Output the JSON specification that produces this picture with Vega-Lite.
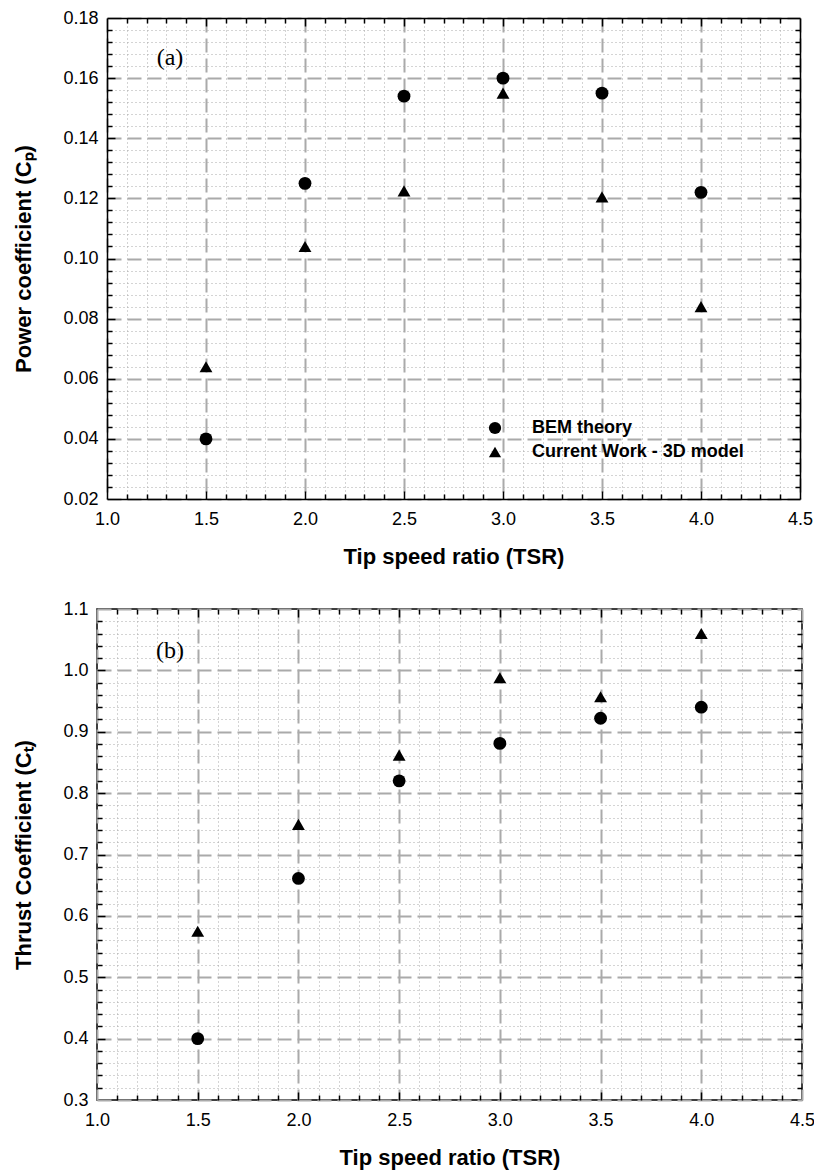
{
  "$schema": "https://vega.github.io/schema/vega-lite/v6.json",
  "padding": {"left": 12, "top": 9, "right": 0, "bottom": 3},
  "spacing": 32,
  "config": {
    "view": {"stroke": "black", "strokeWidth": 1.5},
    "font": "Liberation Sans",
    "axis": {
      "labelFont": "Liberation Sans", "labelFontSize": 18, "labelColor": "black",
      "titleFont": "Liberation Sans", "titleFontSize": 22, "titleFontWeight": "bold", "titleColor": "black",
      "domain": false, "tickColor": "black", "tickWidth": 1.5, "labelOverlap": false, "labelFlush": false, "labelBound": false
    }
  },
  "datasets": {
    "cp": [
      {"tsr": 1.5, "val": 0.040, "series": "BEM theory"},
      {"tsr": 2.0, "val": 0.125, "series": "BEM theory"},
      {"tsr": 2.5, "val": 0.154, "series": "BEM theory"},
      {"tsr": 3.0, "val": 0.160, "series": "BEM theory"},
      {"tsr": 3.5, "val": 0.155, "series": "BEM theory"},
      {"tsr": 4.0, "val": 0.122, "series": "BEM theory"},
      {"tsr": 1.5, "val": 0.064, "series": "Current Work - 3D model"},
      {"tsr": 2.0, "val": 0.104, "series": "Current Work - 3D model"},
      {"tsr": 2.5, "val": 0.1225, "series": "Current Work - 3D model"},
      {"tsr": 3.0, "val": 0.155, "series": "Current Work - 3D model"},
      {"tsr": 3.5, "val": 0.1205, "series": "Current Work - 3D model"},
      {"tsr": 4.0, "val": 0.084, "series": "Current Work - 3D model"}
    ],
    "ct": [
      {"tsr": 1.5, "val": 0.40, "series": "BEM theory"},
      {"tsr": 2.0, "val": 0.661, "series": "BEM theory"},
      {"tsr": 2.5, "val": 0.82, "series": "BEM theory"},
      {"tsr": 3.0, "val": 0.881, "series": "BEM theory"},
      {"tsr": 3.5, "val": 0.922, "series": "BEM theory"},
      {"tsr": 4.0, "val": 0.94, "series": "BEM theory"},
      {"tsr": 1.5, "val": 0.575, "series": "Current Work - 3D model"},
      {"tsr": 2.0, "val": 0.749, "series": "Current Work - 3D model"},
      {"tsr": 2.5, "val": 0.862, "series": "Current Work - 3D model"},
      {"tsr": 3.0, "val": 0.988, "series": "Current Work - 3D model"},
      {"tsr": 3.5, "val": 0.957, "series": "Current Work - 3D model"},
      {"tsr": 4.0, "val": 1.06, "series": "Current Work - 3D model"}
    ],
    "labA": [{"x": 1.318, "y": 0.1667, "label": "(a)"}],
    "labB": [{"x": 1.3625, "y": 1.0316, "label": "(b)"}]
  },
  "vconcat": [
    {
      "width": 703, "height": 481,
      "view": {"stroke": null},
      "data": {"name": "cp"},
      "resolve": {"axis": {"x": "independent", "y": "independent"}},
      "layer": [
        {"mark": {"type": "point", "opacity": 0},
         "encoding": {
           "x": {"field": "tsr", "type": "quantitative", "scale": {"domain": [1, 4.5], "range": [10, 703], "nice": false, "zero": false},
                 "axis": {"orient": "bottom", "values": [1, 1.5, 2, 2.5, 3, 3.5, 4, 4.5], "format": ".1f", "ticks": false, "tickSize": 0, "labelPadding": 11,
                          "title": "Tip speed ratio (TSR)", "titlePadding": 18, "grid": true, "gridDash": [14, 6], "gridColor": "#aaaaaa", "gridWidth": 2}},
           "y": {"field": "val", "type": "quantitative", "scale": {"domain": [0.02, 0.18], "nice": false, "zero": false},
                 "axis": {"orient": "left", "offset": -10, "values": [0.02, 0.04, 0.06, 0.08, 0.10, 0.12, 0.14, 0.16, 0.18], "format": ".2f", "ticks": false, "tickSize": 0, "labelPadding": 9,
                          "title": "Power coefficient (Cₚ)", "titlePadding": 27, "grid": true, "gridDash": [14, 6], "gridColor": "#aaaaaa", "gridWidth": 2}}
         }},
        {"mark": {"type": "point", "opacity": 0},
         "encoding": {
           "x": {"field": "tsr", "type": "quantitative", "scale": {"domain": [1, 4.5], "range": [10, 703], "nice": false, "zero": false},
                 "axis": {"orient": "bottom", "values": [1.1,1.2,1.3,1.4,1.6,1.7,1.8,1.9,2.1,2.2,2.3,2.4,2.6,2.7,2.8,2.9,3.1,3.2,3.3,3.4,3.6,3.7,3.8,3.9,4.1,4.2,4.3,4.4],
                          "labels": false, "title": null, "ticks": true, "tickSize": -5, "grid": true, "gridDash": [1, 3], "gridColor": "#a8a8a8", "gridWidth": 1}},
           "y": {"field": "val", "type": "quantitative", "scale": {"domain": [0.02, 0.18], "nice": false, "zero": false},
                 "axis": {"orient": "left", "offset": -10, "values": [0.024,0.028,0.032,0.036,0.044,0.048,0.052,0.056,0.064,0.068,0.072,0.076,0.084,0.088,0.092,0.096,0.104,0.108,0.112,0.116,0.124,0.128,0.132,0.136,0.144,0.148,0.152,0.156,0.164,0.168,0.172,0.176],
                          "labels": false, "title": null, "ticks": true, "tickSize": -5, "grid": true, "gridDash": [1, 3], "gridColor": "#a8a8a8", "gridWidth": 1}}
         }},
        {"mark": {"type": "point", "opacity": 0},
         "encoding": {
           "x": {"field": "tsr", "type": "quantitative", "scale": {"domain": [1, 4.5], "range": [10, 703], "nice": false, "zero": false},
                 "axis": {"orient": "bottom", "values": [1.5, 2, 2.5, 3, 3.5, 4], "labels": false, "title": null, "ticks": true, "tickSize": -8, "grid": false,
                          "domain": true, "domainColor": "black", "domainWidth": 1.5}},
           "y": {"field": "val", "type": "quantitative", "scale": {"domain": [0.02, 0.18], "nice": false, "zero": false},
                 "axis": {"orient": "left", "offset": -10, "values": [0.04, 0.06, 0.08, 0.10, 0.12, 0.14, 0.16], "labels": false, "title": null, "ticks": true, "tickSize": -8, "grid": false,
                          "domain": true, "domainColor": "black", "domainWidth": 1.5}}
         }},
        {"mark": {"type": "point", "opacity": 0},
         "encoding": {
           "x": {"field": "tsr", "type": "quantitative", "scale": {"domain": [1, 4.5], "range": [10, 703], "nice": false, "zero": false},
                 "axis": {"orient": "top", "values": [1.5, 2, 2.5, 3, 3.5, 4], "labels": false, "title": null, "ticks": true, "tickSize": -8, "grid": false,
                          "domain": true, "domainColor": "black", "domainWidth": 1.5}},
           "y": {"field": "val", "type": "quantitative", "scale": {"domain": [0.02, 0.18], "nice": false, "zero": false},
                 "axis": {"orient": "right", "values": [0.04, 0.06, 0.08, 0.10, 0.12, 0.14, 0.16], "labels": false, "title": null, "ticks": true, "tickSize": -8, "grid": false,
                          "domain": true, "domainColor": "black", "domainWidth": 1.5}}
         }},
        {"mark": {"type": "point", "opacity": 0},
         "encoding": {
           "x": {"field": "tsr", "type": "quantitative", "scale": {"domain": [1, 4.5], "range": [10, 703], "nice": false, "zero": false},
                 "axis": {"orient": "top", "values": [1.1,1.2,1.3,1.4,1.6,1.7,1.8,1.9,2.1,2.2,2.3,2.4,2.6,2.7,2.8,2.9,3.1,3.2,3.3,3.4,3.6,3.7,3.8,3.9,4.1,4.2,4.3,4.4],
                          "labels": false, "title": null, "ticks": true, "tickSize": -5, "grid": false}},
           "y": {"field": "val", "type": "quantitative", "scale": {"domain": [0.02, 0.18], "nice": false, "zero": false},
                 "axis": {"orient": "right", "values": [0.024,0.028,0.032,0.036,0.044,0.048,0.052,0.056,0.064,0.068,0.072,0.076,0.084,0.088,0.092,0.096,0.104,0.108,0.112,0.116,0.124,0.128,0.132,0.136,0.144,0.148,0.152,0.156,0.164,0.168,0.172,0.176],
                          "labels": false, "title": null, "ticks": true, "tickSize": -5, "grid": false}}
         }},
        {"mark": {"type": "point", "filled": true, "size": 165, "color": "black", "opacity": 1},
         "encoding": {
           "x": {"field": "tsr", "type": "quantitative", "scale": {"domain": [1, 4.5], "range": [10, 703], "nice": false, "zero": false}, "axis": null},
           "y": {"field": "val", "type": "quantitative", "scale": {"domain": [0.02, 0.18], "nice": false, "zero": false}, "axis": null},
           "shape": {"field": "series", "type": "nominal",
                     "scale": {"domain": ["BEM theory", "Current Work - 3D model"], "range": ["circle", "triangle-up"]},
                     "legend": {"title": null, "orient": "none", "legendX": 389, "legendY": 401, "padding": 0, "labelLimit": 500,
                                "labelFont": "Liberation Sans", "labelFontWeight": "bold", "labelFontSize": 18, "labelColor": "black",
                                "labelOffset": 28, "symbolSize": 150, "symbolFillColor": "black", "symbolStrokeWidth": 0, "rowPadding": 6}}
         }},
        {"data": {"name": "labA"},
         "mark": {"type": "text", "font": "Liberation Serif", "fontSize": 24, "color": "black", "baseline": "middle", "align": "center"},
         "encoding": {
           "x": {"field": "x", "type": "quantitative", "scale": {"domain": [1, 4.5], "range": [10, 703], "nice": false, "zero": false}, "axis": null},
           "y": {"field": "y", "type": "quantitative", "scale": {"domain": [0.02, 0.18], "nice": false, "zero": false}, "axis": null},
           "text": {"field": "label"}
         }}
      ]
    },
    {
      "width": 705, "height": 491,
      "data": {"name": "ct"},
      "resolve": {"axis": {"x": "independent", "y": "independent"}},
      "layer": [
        {"mark": {"type": "point", "opacity": 0},
         "encoding": {
           "x": {"field": "tsr", "type": "quantitative", "scale": {"domain": [1, 4.5], "nice": false, "zero": false},
                 "axis": {"orient": "bottom", "values": [1, 1.5, 2, 2.5, 3, 3.5, 4, 4.5], "format": ".1f", "ticks": false, "tickSize": 0, "labelPadding": 11,
                          "title": "Tip speed ratio (TSR)", "titlePadding": 18, "grid": true, "gridDash": [14, 6], "gridColor": "#aaaaaa", "gridWidth": 2}},
           "y": {"field": "val", "type": "quantitative", "scale": {"domain": [0.3, 1.1], "nice": false, "zero": false},
                 "axis": {"orient": "left", "values": [0.3, 0.4, 0.5, 0.6, 0.7, 0.8, 0.9, 1.0, 1.1], "format": ".1f", "ticks": false, "tickSize": 0, "labelPadding": 9,
                          "title": "Thrust Coefficient (Cₜ)", "titlePadding": 27, "grid": true, "gridDash": [14, 6], "gridColor": "#aaaaaa", "gridWidth": 2}}
         }},
        {"mark": {"type": "point", "opacity": 0},
         "encoding": {
           "x": {"field": "tsr", "type": "quantitative", "scale": {"domain": [1, 4.5], "nice": false, "zero": false},
                 "axis": {"orient": "bottom", "values": [1.1,1.2,1.3,1.4,1.6,1.7,1.8,1.9,2.1,2.2,2.3,2.4,2.6,2.7,2.8,2.9,3.1,3.2,3.3,3.4,3.6,3.7,3.8,3.9,4.1,4.2,4.3,4.4],
                          "labels": false, "title": null, "ticks": true, "tickSize": -5, "grid": true, "gridDash": [1, 3], "gridColor": "#a8a8a8", "gridWidth": 1}},
           "y": {"field": "val", "type": "quantitative", "scale": {"domain": [0.3, 1.1], "nice": false, "zero": false},
                 "axis": {"orient": "left", "values": [0.32,0.34,0.36,0.38,0.42,0.44,0.46,0.48,0.52,0.54,0.56,0.58,0.62,0.64,0.66,0.68,0.72,0.74,0.76,0.78,0.82,0.84,0.86,0.88,0.92,0.94,0.96,0.98,1.02,1.04,1.06,1.08],
                          "labels": false, "title": null, "ticks": true, "tickSize": -5, "grid": true, "gridDash": [1, 3], "gridColor": "#a8a8a8", "gridWidth": 1}}
         }},
        {"mark": {"type": "point", "opacity": 0},
         "encoding": {
           "x": {"field": "tsr", "type": "quantitative", "scale": {"domain": [1, 4.5], "nice": false, "zero": false},
                 "axis": {"orient": "bottom", "values": [1.5, 2, 2.5, 3, 3.5, 4], "labels": false, "title": null, "ticks": true, "tickSize": -8, "grid": false}},
           "y": {"field": "val", "type": "quantitative", "scale": {"domain": [0.3, 1.1], "nice": false, "zero": false},
                 "axis": {"orient": "left", "values": [0.4, 0.5, 0.6, 0.7, 0.8, 0.9, 1.0], "labels": false, "title": null, "ticks": true, "tickSize": -8, "grid": false}}
         }},
        {"mark": {"type": "point", "opacity": 0},
         "encoding": {
           "x": {"field": "tsr", "type": "quantitative", "scale": {"domain": [1, 4.5], "nice": false, "zero": false},
                 "axis": {"orient": "top", "values": [1.5, 2, 2.5, 3, 3.5, 4], "labels": false, "title": null, "ticks": true, "tickSize": -8, "grid": false}},
           "y": {"field": "val", "type": "quantitative", "scale": {"domain": [0.3, 1.1], "nice": false, "zero": false},
                 "axis": {"orient": "right", "values": [0.4, 0.5, 0.6, 0.7, 0.8, 0.9, 1.0], "labels": false, "title": null, "ticks": true, "tickSize": -8, "grid": false}}
         }},
        {"mark": {"type": "point", "opacity": 0},
         "encoding": {
           "x": {"field": "tsr", "type": "quantitative", "scale": {"domain": [1, 4.5], "nice": false, "zero": false},
                 "axis": {"orient": "top", "values": [1.1,1.2,1.3,1.4,1.6,1.7,1.8,1.9,2.1,2.2,2.3,2.4,2.6,2.7,2.8,2.9,3.1,3.2,3.3,3.4,3.6,3.7,3.8,3.9,4.1,4.2,4.3,4.4],
                          "labels": false, "title": null, "ticks": true, "tickSize": -5, "grid": false}},
           "y": {"field": "val", "type": "quantitative", "scale": {"domain": [0.3, 1.1], "nice": false, "zero": false},
                 "axis": {"orient": "right", "values": [0.32,0.34,0.36,0.38,0.42,0.44,0.46,0.48,0.52,0.54,0.56,0.58,0.62,0.64,0.66,0.68,0.72,0.74,0.76,0.78,0.82,0.84,0.86,0.88,0.92,0.94,0.96,0.98,1.02,1.04,1.06,1.08],
                          "labels": false, "title": null, "ticks": true, "tickSize": -5, "grid": false}}
         }},
        {"mark": {"type": "point", "filled": true, "size": 165, "color": "black", "opacity": 1},
         "encoding": {
           "x": {"field": "tsr", "type": "quantitative", "scale": {"domain": [1, 4.5], "nice": false, "zero": false}, "axis": null},
           "y": {"field": "val", "type": "quantitative", "scale": {"domain": [0.3, 1.1], "nice": false, "zero": false}, "axis": null},
           "shape": {"field": "series", "type": "nominal",
                     "scale": {"domain": ["BEM theory", "Current Work - 3D model"], "range": ["circle", "triangle-up"]},
                     "legend": {"title": null, "orient": "none", "legendX": 425, "legendY": 425, "padding": 0, "labelLimit": 500,
                                "labelFont": "Liberation Sans", "labelFontWeight": "bold", "labelFontSize": 18, "labelColor": "black",
                                "labelOffset": 26, "symbolSize": 150, "symbolFillColor": "black", "symbolStrokeWidth": 0, "rowPadding": 7}}
         }},
        {"data": {"name": "labB"},
         "mark": {"type": "text", "font": "Liberation Serif", "fontSize": 24, "color": "black", "baseline": "middle", "align": "center"},
         "encoding": {
           "x": {"field": "x", "type": "quantitative", "scale": {"domain": [1, 4.5], "nice": false, "zero": false}, "axis": null},
           "y": {"field": "y", "type": "quantitative", "scale": {"domain": [0.3, 1.1], "nice": false, "zero": false}, "axis": null},
           "text": {"field": "label"}
         }}
      ]
    }
  ]
}
